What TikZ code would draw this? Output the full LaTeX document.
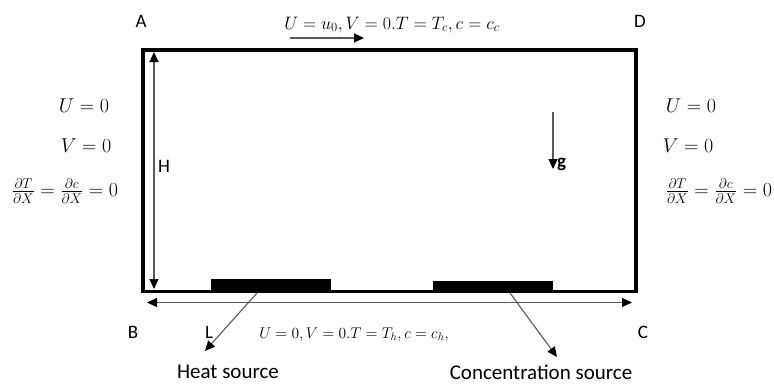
\RequirePackage{fix-cm}
\documentclass[tikz,border=0pt]{standalone}
\usepackage{amsmath}
\usepackage{fontspec}
\setmainfont{Carlito}
\usetikzlibrary{arrows.meta}
\begin{document}
\begin{tikzpicture}[x=1pt,y=-1pt,
  sans/.style={font=\fontsize{19}{22}\selectfont, inner sep=0pt},
  src/.style={font=\fontsize{21}{24}\selectfont, inner sep=0pt},
  mth/.style={font=\fontsize{20}{24}\selectfont, inner sep=0pt},
  tmth/.style={font=\fontsize{18}{22}\selectfont, inner sep=0pt},
  smth/.style={font=\fontsize{15.5}{19}\selectfont, inner sep=0pt},
  >={Triangle[length=10pt,width=9pt,color=black]},
  conn/.style={draw=black!65, line width=1.1pt, ->},
  dconn/.style={draw=black!65, line width=1.1pt, <->},
  block/.style={fill=black, inner sep=0pt, anchor=south west},
  box/.style={draw=black, line width=3.5pt},
]
\useasboundingbox (0,0) rectangle (774,383);

% cavity
\coordinate (cA) at (143,50);
\coordinate (cC) at (636,291.5);
\draw[box] (cA) rectangle (cC);

% sources
\node[block, minimum width=120pt, minimum height=12.5pt] (hs) at (211,291.5) {};
\node[block, minimum width=120pt, minimum height=10.5pt] (cs) at (433,291.5) {};

% corner labels
\node[sans] (lA) at (141,21) {A};
\node[sans] (lD) at (640,21) {D};
\node[sans] (lB) at (133,332) {B};
\node[sans] (lC) at (643,332) {C};

% top boundary
\node[tmth, anchor=base] (topbc) at (392,29) {$U=u_0,V=0.T=T_c,c=c_c$};
\coordinate (ua) at (290,38);
\coordinate (ub) at (364,38);
\draw[conn] (ua) -- (ub);

% bottom boundary
\node[smth, anchor=base] (botbc) at (354,338) {$U=0,V=0.T=T_h,c=c_h,$};

% left boundary
\node[mth, anchor=base] (lU) at (84,112) {$U=0$};
\node[mth, anchor=base] (lV) at (86,152) {$V=0$};
\node[mth] (lF) at (65,191) {$\frac{\partial T}{\partial X}=\frac{\partial c}{\partial X}=0$};

% right boundary
\node[mth, anchor=base] (rU) at (691,112) {$U=0$};
\node[mth, anchor=base] (rV) at (688,152) {$V=0$};
\node[mth] (rF) at (719,191) {$\frac{\partial T}{\partial X}=\frac{\partial c}{\partial X}=0$};

% height H
\coordinate (h1) at (154,52);
\coordinate (h2) at (154,289);
\draw[dconn] (h1) -- (h2);
\node[sans, anchor=west] (lH) at (158,166) {H};

% length L
\coordinate (l1) at (147,302.5);
\coordinate (l2) at (632,302.5);
\draw[dconn] (l1) -- (l2);
\node[sans] (lL) at (209,332) {L};

% gravity
\coordinate (g1) at (553,112);
\coordinate (g2) at (553,169);
\draw[conn] (g1) -- (g2);
\node[sans, anchor=west, font=\fontsize{19}{22}\selectfont\bfseries] (lg) at (557,164) {g};

% source labels
\node[src] (lhs) at (228,372) {Heat source};
\node[src] (lcs) at (541,372) {Concentration source};
\coordinate (hsp) at (257,293);
\coordinate (hse) at (205,351);
\draw[conn] (hsp) -- (hse);
\coordinate (csp) at (510,293);
\coordinate (cse) at (557,357);
\draw[conn] (csp) -- (cse);
\end{tikzpicture}
\end{document}
